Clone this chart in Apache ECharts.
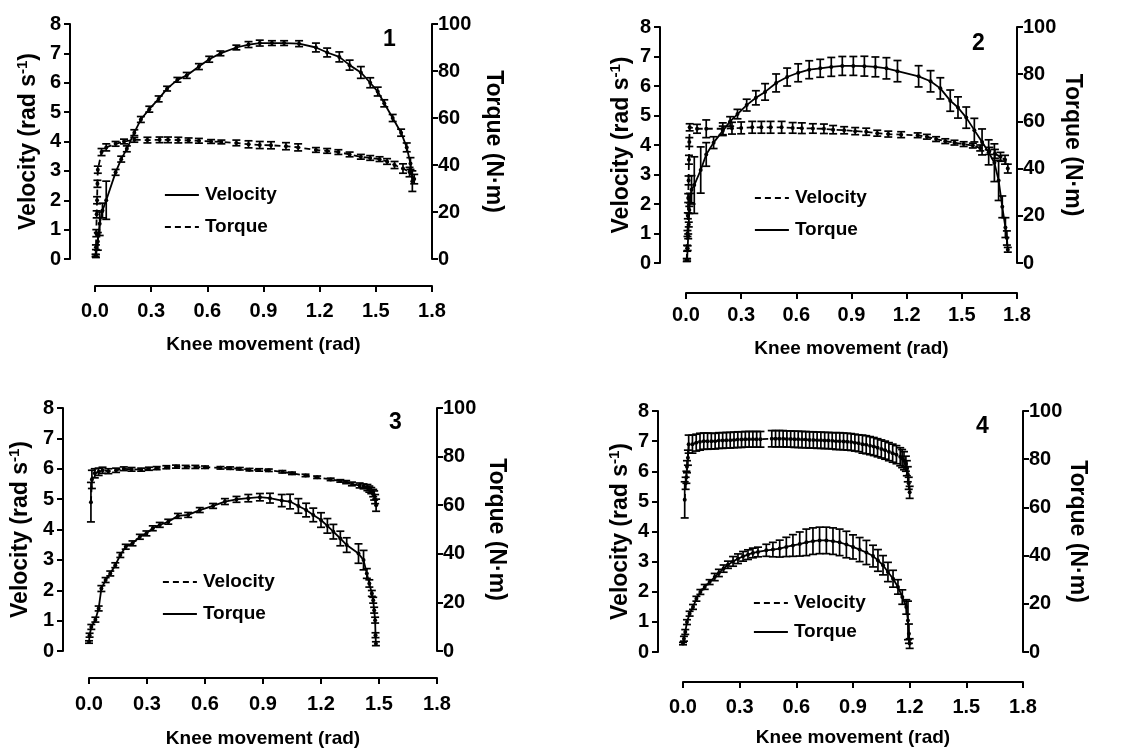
<!DOCTYPE html>
<html>
<head>
<meta charset="utf-8">
<script src="https://cdn.jsdelivr.net/npm/echarts@6/dist/echarts.min.js"></script>
<style>html,body{margin:0;padding:0;background:#fff}#c{width:1135px;height:750px}</style>
</head>
<body>
<div id="c"></div>
<script>
// ---------- DATA ----------
const xTicks = [0.0, 0.3, 0.6, 0.9, 1.2, 1.5, 1.8];
const panelNames = ['1', '2', '3', '4'];
const legendNamesP1 = ['Velocity', 'Torque'];
const legendNamesOther = ['Velocity', 'Torque'];

// Panel 1 : Velocity solid (rad/s), Torque dashed (N·m)
const p1VelX = [0.005,0.015,0.025,0.04,0.06,0.11,0.14,0.17,0.21,0.245,0.29,0.34,0.385,0.44,0.49,0.555,0.61,0.67,0.755,0.82,0.88,0.945,1.01,1.09,1.18,1.24,1.305,1.36,1.42,1.47,1.51,1.545,1.59,1.635,1.665,1.685,1.695];
const p1VelY = [0.1,0.6,1.2,1.65,2.0,2.95,3.4,3.75,4.3,4.75,5.1,5.45,5.8,6.1,6.25,6.55,6.8,7.0,7.2,7.3,7.35,7.35,7.35,7.33,7.2,7.03,6.88,6.6,6.35,6.0,5.7,5.3,4.8,4.3,3.8,3.25,2.65];
const p1VelErr = [0.05,0.3,0.4,0.25,0.65,0.1,0.1,0.1,0.1,0.1,0.1,0.1,0.08,0.08,0.1,0.1,0.1,0.08,0.08,0.1,0.1,0.08,0.08,0.1,0.15,0.15,0.17,0.17,0.2,0.17,0.15,0.12,0.12,0.12,0.15,0.2,0.35];
const p1TorX = [0.003,0.005,0.007,0.009,0.011,0.013,0.015,0.035,0.06,0.11,0.155,0.21,0.28,0.345,0.39,0.445,0.5,0.555,0.62,0.675,0.755,0.82,0.88,0.94,1.02,1.085,1.18,1.24,1.3,1.36,1.42,1.47,1.52,1.56,1.6,1.645,1.68,1.705];
const p1TorY = [1.5,5,11,19,25,32,38,45.5,47.5,49,50,50.7,50.6,50.7,50.7,50.6,50.5,50.3,50,49.8,49.4,48.8,48.5,48.4,48,47.5,46.4,46,45.5,44.5,43.5,43,42.5,41.5,40,38.5,37,34];
const p1TorErr = [0.5,1,1.5,1.5,1.5,1.5,1.5,1.5,1.5,1,1,1,1.2,1.2,1.2,1.2,1,1,0.8,0.8,1.2,1.5,1.5,1.5,1.5,1.5,1,1,1,1,1,1,1,1.2,1.5,2,2,2];

// Panel 2 : Velocity dashed, Torque solid
const p2VelX = [0.004,0.006,0.008,0.01,0.012,0.014,0.016,0.018,0.02,0.06,0.11,0.2,0.25,0.3,0.36,0.41,0.46,0.52,0.58,0.63,0.69,0.75,0.8,0.86,0.92,0.98,1.04,1.1,1.17,1.26,1.31,1.36,1.41,1.46,1.51,1.56,1.6,1.65,1.68,1.71,1.735,1.75];
const p2VelY = [0.1,0.5,1.0,1.6,2.2,2.8,3.5,4.1,4.6,4.55,4.55,4.55,4.57,4.58,4.6,4.6,4.6,4.6,4.58,4.57,4.56,4.55,4.52,4.5,4.47,4.45,4.4,4.37,4.35,4.33,4.28,4.2,4.13,4.08,4.03,3.98,3.9,3.8,3.7,3.6,3.5,3.2];
const p2VelErr = [0.05,0.1,0.1,0.1,0.15,0.15,0.15,0.15,0.12,0.15,0.3,0.2,0.2,0.2,0.2,0.2,0.2,0.2,0.18,0.18,0.16,0.16,0.14,0.12,0.12,0.12,0.1,0.1,0.1,0.08,0.08,0.08,0.08,0.08,0.08,0.08,0.1,0.12,0.15,0.15,0.15,0.15];
const p2TorX = [0.006,0.009,0.012,0.015,0.018,0.022,0.03,0.045,0.08,0.11,0.15,0.2,0.24,0.28,0.33,0.38,0.43,0.49,0.55,0.61,0.67,0.73,0.79,0.85,0.91,0.97,1.03,1.09,1.15,1.265,1.33,1.383,1.437,1.479,1.524,1.568,1.61,1.646,1.677,1.70,1.72,1.737,1.745,1.75];
const p2TorY = [1.3,6.3,11.3,16.3,22.5,27.5,31,33,39.4,46,51,56,60,63.1,66.9,70,72.5,76.3,78.8,80.6,81.9,82.5,83.1,83.5,83.5,83.4,83.1,82.5,81.3,79.1,77,74,68.8,65.9,61.6,56.3,51.3,46.9,42.5,35,23.8,15,10.6,5.6];
const p2TorErr = [0.5,1,1,1,1.5,2,6,12,9.8,5,2.5,2,2,2,2.5,3,3.5,3.8,3.8,3.8,3.8,3.8,4,4,4,4.2,4.2,4.5,4.5,4.5,4.5,4.5,4.5,4.5,4.5,5,5.5,5.3,8,8.5,4.6,4.2,3,1];

// Panel 3 : Velocity dashed, Torque solid
const p3VelX = [0.01,0.015,0.03,0.05,0.07,0.1,0.14,0.18,0.22,0.27,0.31,0.35,0.4,0.45,0.5,0.55,0.6,0.68,0.73,0.78,0.83,0.88,0.93,1.0,1.05,1.12,1.18,1.25,1.3,1.33,1.36,1.4,1.42,1.44,1.45,1.46,1.47,1.475,1.48,1.485];
const p3VelY = [4.9,5.65,5.85,5.9,5.95,5.92,5.95,6.0,5.98,5.97,6.0,6.02,6.05,6.07,6.06,6.06,6.05,6.03,6.02,6.0,5.97,5.96,5.95,5.9,5.85,5.78,5.72,5.65,5.6,5.56,5.5,5.45,5.42,5.38,5.33,5.28,5.2,5.12,5.0,4.8];
const p3VelErr = [0.65,0.3,0.15,0.12,0.1,0.08,0.07,0.06,0.06,0.05,0.05,0.05,0.05,0.05,0.05,0.05,0.04,0.04,0.04,0.04,0.04,0.04,0.04,0.04,0.04,0.04,0.04,0.04,0.04,0.05,0.06,0.08,0.08,0.1,0.1,0.1,0.12,0.15,0.15,0.2];
const p3TorX = [0.0,0.003,0.012,0.033,0.05,0.064,0.086,0.11,0.136,0.162,0.19,0.225,0.263,0.297,0.33,0.366,0.41,0.46,0.513,0.573,0.642,0.703,0.763,0.824,0.884,0.936,0.997,1.04,1.083,1.123,1.16,1.2,1.233,1.264,1.3,1.333,1.394,1.42,1.437,1.45,1.463,1.47,1.475,1.48,1.482,1.484];
const p3TorY = [3.7,6.5,9.9,12.9,17.5,25.7,29.2,31.9,35.3,39.5,42.9,44.3,47,48.4,50.5,51.9,53.2,55.6,56,58,59.7,61.5,62.4,62.9,63.3,62.9,61.9,61.5,59.7,58,56,53.9,51.5,49.1,46.3,43.6,40.1,37.4,31.9,27.8,23.7,20.9,16.8,12.7,6.5,3];
const p3TorErr = [0.5,0.8,1,1,1,1.2,1,1,1,1,1,1,1,1,1,1,1,1,1,1,1,1.2,1.2,1.5,1.5,2,2.5,3,3,2.8,2.8,3,3,3,3,3,4,4,2,1.5,1.2,1.2,1.2,1.2,1,0.8];

// Panel 4 : Velocity dashed, Torque solid
const p4VelX = [0.009,0.014,0.018,0.021,0.026,0.03,0.05,0.07,0.09,0.11,
  0.13,0.15,0.17,0.19,0.21,0.23,0.25,0.27,0.29,0.31,
  0.33,0.35,0.37,0.39,0.41,0.47,0.49,0.51,0.53,0.55,
  0.57,0.59,0.61,0.63,0.65,0.67,0.69,0.71,0.73,0.75,
  0.77,0.79,0.81,0.83,0.85,0.87,0.89,0.91,0.93,0.95,
  0.97,0.99,1.01,1.03,1.05,1.07,1.09,1.11,1.13,1.15,
  1.16,1.17,1.18,1.185,1.19,1.195,1.2];
const p4VelY = [5.05,5.6,5.8,6.15,6.45,6.9,6.9,6.95,6.98,7.0,
  7.0,7.0,7.0,7.02,7.02,7.03,7.03,7.04,7.05,7.05,
  7.06,7.06,7.06,7.06,7.06,7.08,7.08,7.08,7.08,7.07,
  7.07,7.06,7.06,7.05,7.05,7.04,7.04,7.03,7.03,7.02,
  7.02,7.01,7.0,7.0,6.99,6.98,6.97,6.95,6.93,6.9,
  6.88,6.85,6.82,6.78,6.74,6.7,6.65,6.6,6.55,6.48,
  6.42,6.35,6.25,6.1,5.9,5.6,5.3];
const p4VelErr = [0.6,0.2,0.2,0.2,0.25,0.3,0.3,0.28,0.28,0.27,
  0.27,0.26,0.26,0.26,0.26,0.26,0.26,0.26,0.26,0.26,
  0.26,0.26,0.26,0.26,0.26,0.27,0.27,0.27,0.27,0.27,
  0.27,0.27,0.27,0.27,0.27,0.27,0.27,0.27,0.27,0.27,
  0.27,0.27,0.28,0.28,0.28,0.28,0.28,0.28,0.28,0.3,
  0.3,0.3,0.3,0.3,0.3,0.3,0.3,0.3,0.3,0.3,
  0.3,0.3,0.25,0.25,0.25,0.2,0.2];
const p4TorX = [0.0,0.005,0.012,0.021,0.035,0.053,0.071,0.092,0.115,0.141,
  0.168,0.19,0.215,0.238,0.265,0.291,0.318,0.344,0.37,0.397,
  0.441,0.476,0.512,0.547,0.582,0.618,0.653,0.688,0.723,0.759,
  0.794,0.829,0.865,0.9,0.935,0.971,1.006,1.032,1.059,1.085,
  1.112,1.138,1.161,1.182,1.191,1.196,1.2];
const p4TorY = [3.5,5.5,8.3,12.4,15.9,18.7,22.1,24.9,27,29,
  31.1,32.8,34.6,36.2,37.6,38.7,39.7,40.4,41.1,41.5,
  42.2,42.5,42.9,43.6,44.2,44.8,45.5,46,46.3,46.3,
  46,45.5,44.6,43.6,42.5,41.3,39.8,38,36,33.2,
  30.4,27,22.8,18.7,13.1,7.6,3.5];
const p4TorErr = [0.5,1,1,1,1,1,1,1,1,1,
  1.5,1.5,1.5,1.5,2,2,2,2,2,2,
  2.5,3,3.5,4,4.5,5,5.5,5.5,5.5,5.5,
  5.5,5.5,5.5,5,5,5,4.5,4.5,4,4,
  3.5,3,3,3,8,4,2];

// ---------- LAYOUT / STYLE ----------
const FONT = '"Liberation Sans", Arial, sans-serif';
const BLACK = '#000';
const panels = [
  {grid:{left:95,right:703,top:24,height:235}, xOff:27, yOff:25, xGap:44, xLab:15, lGap:27, rGap:50,
   legend:{left:159,top:179,gap:10}, num:{left:383,top:28},
   vel:{x:p1VelX,y:p1VelY,e:p1VelErr,dashed:false}, tor:{x:p1TorX,y:p1TorY,e:p1TorErr,dashed:true}},
  {grid:{left:686,right:118,top:27,height:236}, xOff:30, yOff:26, xGap:44, xLab:12, lGap:24, rGap:44,
   legend:{left:749,top:182,gap:10}, num:{left:972,top:32},
   vel:{x:p2VelX,y:p2VelY,e:p2VelErr,dashed:true}, tor:{x:p2TorX,y:p2TorY,e:p2TorErr,dashed:false}},
  {grid:{left:89,right:698,top:408,height:243}, xOff:27, yOff:26, xGap:45, xLab:16, lGap:28, rGap:48,
   legend:{left:157,top:566,gap:10}, num:{left:389,top:411},
   vel:{x:p3VelX,y:p3VelY,e:p3VelErr,dashed:true}, tor:{x:p3TorX,y:p3TorY,e:p3TorErr,dashed:false}},
  {grid:{left:683,right:112,top:411,height:241}, xOff:30, yOff:25, xGap:41, xLab:15, lGap:23, rGap:43,
   legend:{left:748,top:587,gap:7}, num:{left:976,top:415},
   vel:{x:p4VelX,y:p4VelY,e:p4VelErr,dashed:true}, tor:{x:p4TorX,y:p4TorY,e:p4TorErr,dashed:false}}
];

function pairs(xs, ys){ return xs.map((x,i)=>[x, ys[i]]); }
function errs(xs, ys, es){ return xs.map((x,i)=>[x, ys[i]-es[i], ys[i]+es[i]]); }

function renderErr(params, api){
  const x = api.value(0);
  const lo = api.coord([x, api.value(1)]);
  const hi = api.coord([x, api.value(2)]);
  const w = 4;
  const st = {stroke: BLACK, lineWidth: 1.7};
  return {type:'group', children:[
    {type:'line', shape:{x1:lo[0],y1:lo[1],x2:hi[0],y2:hi[1]}, style:st},
    {type:'line', shape:{x1:lo[0]-w,y1:lo[1],x2:lo[0]+w,y2:lo[1]}, style:st},
    {type:'line', shape:{x1:hi[0]-w,y1:hi[1],x2:hi[0]+w,y2:hi[1]}, style:st}
  ]};
}

const axisLine = {show:true, onZero:false, lineStyle:{color:BLACK, width:2}};
const axisTick = {show:true, length:6, lineStyle:{color:BLACK, width:2}};
const labelStyle = {color:BLACK, fontFamily:FONT, fontWeight:'bold', fontSize:19};
const tickStyle = {color:BLACK, fontFamily:FONT, fontWeight:'bold', fontSize:20};
const vTitleStyle = {color:BLACK, fontFamily:FONT, fontWeight:'bold', fontSize:23};

const option = {
  animation:false,
  backgroundColor:'#fff',
  grid:[], xAxis:[], yAxis:[], series:[], legend:[], title:[]
};

panels.forEach((p, i) => {
  option.grid.push(Object.assign({containLabel:false, outerBoundsMode:'none'}, p.grid));
  option.xAxis.push({
    type:'value', gridIndex:i, min:0, max:1.8, interval:0.3, position:'bottom', offset:p.xOff,
    axisLine, axisTick, splitLine:{show:false},
    axisLabel:Object.assign({margin:p.xLab, formatter:v=>v.toFixed(1), showMinLabel:true, showMaxLabel:true}, tickStyle),
    name:'Knee movement (rad)', nameLocation:'middle', nameGap:p.xGap + (p.xLab - 10),
    nameTextStyle:Object.assign({}, labelStyle)
  });
  option.yAxis.push({
    type:'value', gridIndex:i, min:0, max:8, interval:1, position:'left', offset:p.yOff,
    axisLine, axisTick, splitLine:{show:false},
    axisLabel:Object.assign({margin:9}, tickStyle),
    name:'{a|Velocity (rad s}{b|-1}{a|)}', nameLocation:'middle', nameRotate:90, nameGap:p.lGap,
    nameTextStyle:{rich:{
      a:Object.assign({lineHeight:28}, vTitleStyle),
      b:{color:BLACK, fontFamily:FONT, fontWeight:'bold', fontSize:15, lineHeight:15, verticalAlign:'top'}
    }}
  });
  option.yAxis.push({
    type:'value', gridIndex:i, min:0, max:100, interval:20, position:'right', offset:0,
    axisLine, axisTick, splitLine:{show:false},
    axisLabel:Object.assign({margin:6}, tickStyle),
    name:'Torque (N\u00b7m)', nameLocation:'middle', nameRotate:-90, nameGap:p.rGap,
    nameTextStyle:Object.assign({}, vTitleStyle)
  });
  const vName = 'Velocity' + (i+1), tName = 'Torque' + (i+1);
  const mk = (name, d, yIdx) => ({
    name, type:'line', xAxisIndex:i, yAxisIndex:yIdx,
    data:pairs(d.x, d.y), showSymbol:true, symbol:'circle', symbolSize:4,
    itemStyle:{color:BLACK},
    lineStyle:{color:BLACK, width:1.8, type: d.dashed ? [6,4] : 'solid'},
    z:3
  });
  const mkErr = (name, d, yIdx) => ({
    name, type:'custom', xAxisIndex:i, yAxisIndex:yIdx,
    data:errs(d.x, d.y, d.e), renderItem:renderErr,
    encode:{x:0, y:[1,2]}, z:2
  });
  option.series.push(mk(vName, p.vel, 2*i), mkErr(vName, p.vel, 2*i));
  option.series.push(mk(tName, p.tor, 2*i+1), mkErr(tName, p.tor, 2*i+1));
  const names = i === 0 ? legendNamesP1 : legendNamesOther;
  option.legend.push({
    orient:'vertical', left:p.legend.left, top:p.legend.top, itemGap:p.legend.gap,
    itemWidth:34, itemHeight:12, selectedMode:false,
    data:names.map(n => n + (i+1)),
    formatter:n => n.replace(/\d+$/, ''),
    itemStyle:{opacity:0},
    lineStyle:{width:1.8},
    textStyle:Object.assign({lineHeight:22, padding:[0,0,0,1]}, labelStyle)
  });
  option.title.push({
    text:panelNames[i], left:p.num.left, top:p.num.top, padding:0,
    textStyle:{color:BLACK, fontFamily:FONT, fontWeight:'bold', fontSize:23}
  });
});

const chart = echarts.init(document.getElementById('c'), null, {renderer:'canvas'});
chart.setOption(option);
</script>
</body>
</html>
